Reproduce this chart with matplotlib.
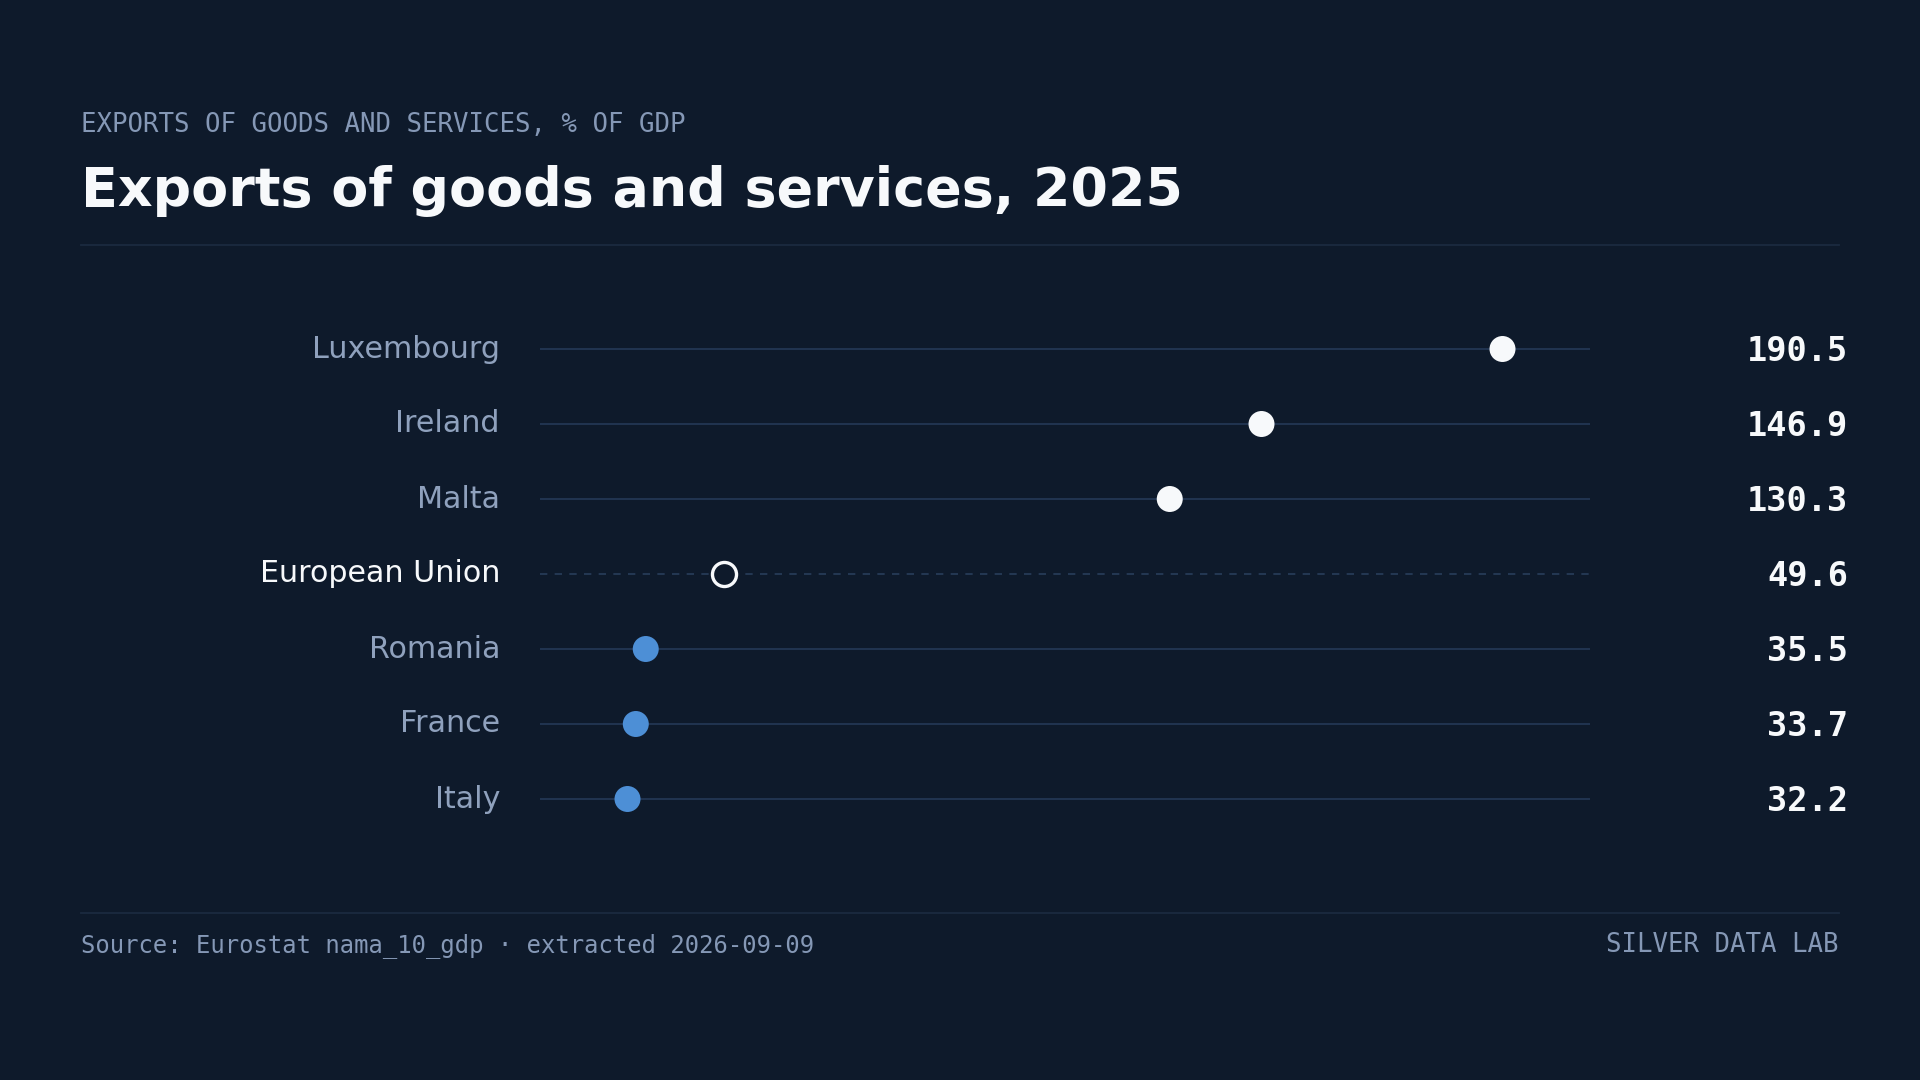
import matplotlib
matplotlib.use("Agg")
import matplotlib.pyplot as plt
from matplotlib.transforms import blended_transform_factory, offset_copy

# ---- data ----
countries = ["Luxembourg", "Ireland", "Malta", "European Union", "Romania", "France", "Italy"]
values = [190.5, 146.9, 130.3, 49.6, 35.5, 33.7, 32.2]
groups = ["high", "high", "high", "eu", "low", "low", "low"]

kicker = "EXPORTS OF GOODS AND SERVICES, % OF GDP"
title = "Exports of goods and services, 2025"
source = "Source: Eurostat nama_10_gdp \u00b7 extracted 2026-09-09"
brand = "SILVER DATA LAB"

# ---- style ----
BG = "#0e1a2b"
GRID = "#243957"
SEP = "#1b2a3f"
META = "#8598b6"
LABEL = "#8fa1bd"
WHITE = "#f7f9fb"
BLUE = "#4d8fd6"
W, H = 1920, 1080

fig = plt.figure(figsize=(19.2, 10.8), dpi=100, facecolor=BG)

def fx(px):
    return px / W

def fy(py):
    return 1 - py / H

ax = fig.add_axes([fx(540), fy(836.5), fx(1590) - fx(540), (836.5 - 311.5) / H])
ax.set_facecolor(BG)
for s in ax.spines.values():
    s.set_visible(False)
ax.set_xticks([])
ax.set_yticks([])

vmin, vmax = min(values), max(values)
pad = 0.1 * (vmax - vmin)
ax.set_xlim(vmin - pad, vmax + pad)
n = len(countries)
ax.set_ylim(n - 0.5, -0.5)

trans = blended_transform_factory(ax.transAxes, ax.transData)
val_trans = offset_copy(trans, fig=fig, x=0, y=-12, units="dots")

for i, (c, v, g) in enumerate(zip(countries, values, groups)):
    if g == "eu":
        ax.plot([0, 1], [i, i], transform=trans, color="#2a405f", lw=1.1,
                dashes=(4.8, 4.8), zorder=1)
        ax.scatter([v], [i], s=300, facecolor=BG, edgecolor=WHITE, linewidth=2.4, zorder=3)
        lab_col = WHITE
    else:
        ax.plot([0, 1], [i, i], transform=trans, color=GRID, lw=1.2, zorder=1,
                solid_capstyle="butt")
        col = WHITE if g == "high" else BLUE
        ax.scatter([v], [i], s=350, color=col, edgecolor="none", zorder=3)
        lab_col = LABEL
    ax.text((500 - 540) / 1050, i, c, transform=trans, ha="right", va="center",
            fontsize=21.7, color=lab_col, family="DejaVu Sans")
    ax.text((1848 - 540) / 1050, i, f"{v:.1f}", transform=val_trans, ha="right",
            va="baseline", fontsize=24.2, color=WHITE, family="DejaVu Sans Mono",
            fontweight="bold")

# ---- header ----
fig.text(fx(81), fy(132), kicker, ha="left", va="baseline", fontsize=18.5,
         color=META, family="DejaVu Sans Mono")
fig.text(fx(81), fy(206), title, ha="left", va="baseline", fontsize=38.8,
         color=WHITE, family="DejaVu Sans", fontweight="bold")

fig.add_artist(plt.Line2D([fx(81), fx(1839)], [fy(245), fy(245)], color=SEP, lw=1.3))
fig.add_artist(plt.Line2D([fx(81), fx(1839)], [fy(913), fy(913)], color=SEP, lw=1.3))

# ---- footer ----
fig.text(fx(81), fy(952), source, ha="left", va="baseline", fontsize=17.2,
         color=META, family="DejaVu Sans Mono")
fig.text(fx(1838), fy(952), brand, ha="right", va="baseline", fontsize=18.5,
         color=META, family="DejaVu Sans Mono")

fig.savefig("out.png", dpi=100, facecolor=BG)
